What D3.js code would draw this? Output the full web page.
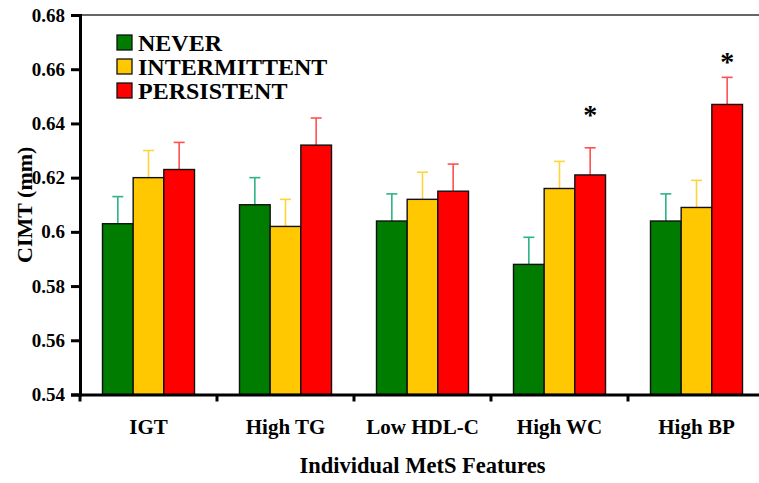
<!DOCTYPE html>
<html lang="en">
<head>
	<meta charset="UTF-8">
	<title>CIMT by MetS features</title>
	<script src="https://cdn.jsdelivr.net/npm/d3@7"></script>
	<style>
		body { margin: 0; background: #fff; }
		text { font-family: "Liberation Serif", "Times New Roman", serif; font-weight: bold; }
	</style>
</head>
<body>
	<script>
	let features = ['IGT', 'High TG', 'Low HDL-C', 'High WC', 'High BP']
	let groups = ['NEVER', 'INTERMITTENT', 'PERSISTENT']
	let never = [0.603, 0.610, 0.604, 0.588, 0.604]
	let intermittent = [0.620, 0.602, 0.612, 0.616, 0.609]
	let persistent = [0.623, 0.632, 0.615, 0.621, 0.647]
	let neverErr = [0.010, 0.010, 0.010, 0.010, 0.010]
	let intermittentErr = [0.010, 0.010, 0.010, 0.010, 0.010]
	let persistentErr = [0.010, 0.010, 0.010, 0.010, 0.010]
	// asterisks over the PERSISTENT bar, at the level (mm) where they sit
	let starFeatures = ['High WC', 'High BP']
	let starLevels = [0.6445, 0.6643]
	let yTicks = [0.54, 0.56, 0.58, 0.6, 0.62, 0.64, 0.66, 0.68]

	let fills = ['#007c00', '#ffc800', '#ff0000']
	let errColors = ['#2eb383', '#ffd43a', '#ff5050']
	let values = [never, intermittent, persistent]
	let errs = [neverErr, intermittentErr, persistentErr]

	let width = 759,
		height = 483
	let margin = { top: 15, right: -6, bottom: 88, left: 80 }

	let svg = d3.select('body').append('svg')
		.attr('width', width)
		.attr('height', height)

	let x = d3.scaleBand()
		.domain(features)
		.range([margin.left, width - margin.right])
		.paddingInner(0)
		.paddingOuter(0)

	let x1 = d3.scaleBand()
		.domain(groups)
		.range([0, 92])

	let y = d3.scaleLinear()
		.domain([0.54, 0.68])
		.range([height - margin.bottom - 0.5, margin.top])

	let rows = []
	features.forEach((f, i) => {
		groups.forEach((g, j) => {
			rows.push({ f: f, g: g, j: j, v: values[j][i], e: errs[j][i] })
		})
	})

	let groupX = f => x(f) + (x.bandwidth() - 92) / 2
	let barMid = (f, g) => groupX(f) + x1(g) + x1.bandwidth() / 2

	// top frame line
	svg.append('line')
		.attr('x1', margin.left).attr('x2', width)
		.attr('y1', margin.top).attr('y2', margin.top)
		.attr('stroke', '#333').attr('stroke-width', 1.5)

	// error bars (drawn first so bars cover the lower half)
	let eb = svg.append('g').selectAll('g')
		.data(rows)
		.enter()
		.append('g')
		.attr('stroke', d => errColors[d.j])
		.attr('stroke-width', 1.6)
	eb.append('line')
		.attr('x1', d => barMid(d.f, d.g))
		.attr('x2', d => barMid(d.f, d.g))
		.attr('y1', d => y(d.v))
		.attr('y2', d => y(d.v + d.e))
	eb.append('line')
		.attr('x1', d => barMid(d.f, d.g) - 5.5)
		.attr('x2', d => barMid(d.f, d.g) + 5.5)
		.attr('y1', d => y(d.v + d.e))
		.attr('y2', d => y(d.v + d.e))

	svg.append('g').selectAll('rect')
		.data(rows)
		.enter()
		.append('rect')
		.attr('x', d => groupX(d.f) + x1(d.g))
		.attr('y', d => y(d.v))
		.attr('width', x1.bandwidth())
		.attr('height', d => y(0.54) - y(d.v))
		.attr('fill', d => fills[d.j])
		.attr('stroke', '#111')
		.attr('stroke-width', 1.4)

	// significance stars
	svg.append('g').selectAll('text')
		.data(starFeatures)
		.enter()
		.append('text')
		.attr('x', d => barMid(d, 'PERSISTENT'))
		.attr('y', (d, i) => y(starLevels[i]) + 13)
		.attr('text-anchor', 'middle')
		.attr('font-size', 28)
		.attr('fill', '#000')
		.text('*')

	// axes
	let axisLeft = d3.axisLeft(y)
		.tickValues(yTicks)
		.tickFormat(d => d3.format('')(+d.toFixed(2)))
		.tickSize(9)
		.tickPadding(6)
	let gy = svg.append('g')
		.attr('transform', `translate(${margin.left},0)`)
		.call(axisLeft)
	gy.select('.domain').attr('stroke', '#000').attr('stroke-width', 3)
	gy.selectAll('.tick line').attr('stroke', '#000').attr('stroke-width', 3)
	gy.selectAll('.tick text').attr('font-size', 19).attr('fill', '#000')
		.style('font-family', '"Liberation Serif", serif').style('font-weight', 'bold')

	let bottomY = y(0.54)
	let axisBottom = d3.axisBottom(x).tickSize(0).tickPadding(25)
	let gx = svg.append('g')
		.attr('transform', `translate(0,${bottomY})`)
		.call(axisBottom)
	gx.select('.domain').attr('stroke', '#000').attr('stroke-width', 3)
	gx.selectAll('.tick text').attr('font-size', 21).attr('fill', '#000')
		.style('font-family', '"Liberation Serif", serif').style('font-weight', 'bold')
	gx.selectAll('.bound')
		.data(features.slice(1))
		.enter()
		.append('line')
		.attr('x1', d => x(d)).attr('x2', d => x(d))
		.attr('y1', 0).attr('y2', 7)
		.attr('stroke', '#000').attr('stroke-width', 3)
	gx.append('line')
		.attr('x1', margin.left).attr('x2', margin.left)
		.attr('y1', 0).attr('y2', 7)
		.attr('stroke', '#000').attr('stroke-width', 3)

	// axis titles
	svg.append('text')
		.attr('x', (margin.left + width - margin.right) / 2)
		.attr('y', 473)
		.attr('text-anchor', 'middle')
		.attr('font-size', 22.5)
		.text('Individual MetS Features')

	svg.append('text')
		.attr('transform', `translate(32,${(margin.top + bottomY) / 2}) rotate(-90)`)
		.attr('text-anchor', 'middle')
		.attr('font-size', 22)
		.text('CIMT (mm)')

	// legend
	let legend = svg.append('g').selectAll('g')
		.data(groups)
		.enter()
		.append('g')
		.attr('transform', (d, i) => `translate(117,${35 + i * 24})`)
	legend.append('rect')
		.attr('width', 15).attr('height', 15)
		.attr('fill', (d, i) => fills[i])
		.attr('stroke', '#111').attr('stroke-width', 1.3)
	legend.append('text')
		.attr('x', 21).attr('y', 15.5)
		.attr('font-size', 24)
		.text(d => d)
	</script>
</body>
</html>
